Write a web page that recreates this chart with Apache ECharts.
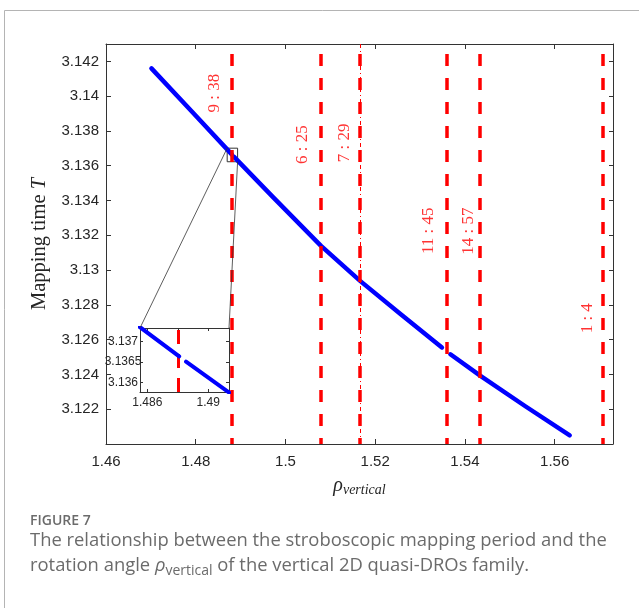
<!DOCTYPE html>
<html><head><meta charset="utf-8">
<script src="https://cdn.jsdelivr.net/npm/echarts@6/dist/echarts.min.js"></script>
<style>html,body{margin:0;padding:0;background:#fff;}#chart{width:639px;height:608px;}</style>
</head><body><div id="chart"></div>
<script>
// ---- data ----
const xTicks = [1.46, 1.48, 1.5, 1.52, 1.54, 1.56];
const xTickLabels = ['1.46', '1.48', '1.5', '1.52', '1.54', '1.56'];
const yTicks = [3.122, 3.124, 3.126, 3.128, 3.13, 3.132, 3.134, 3.136, 3.138, 3.14, 3.142];
const yTickLabels = ['3.122', '3.124', '3.126', '3.128', '3.13', '3.132', '3.134', '3.136', '3.138', '3.14', '3.142'];

// family curve (null = gap in the family)
const rhoValues  = [1.47013, 1.47913, 1.48809, null, 1.48854, 1.49728, 1.50792, 1.51663, 1.52556, 1.53487, null, 1.53676, 1.54346, 1.55346, 1.56335];
const timeValues = [3.14160, 3.13912, 3.13664, null, 3.13651, 3.13418, 3.13139, 3.12938, 3.12749, 3.12555, null, 3.12516, 3.12392, 3.12217, 3.12050];

// resonance lines
const resonanceNames = ['9 : 38', '6 : 25', '7 : 29', '11 : 45', '14 : 57', '1 : 4'];
const resonanceRho = [1.48806, 1.50796, 1.51661, 1.53589, 1.54324, 1.57080];

// inset (zoom) axes
const insetXTicks = [1.486, 1.488, 1.49];
const insetXTickLabels = ['1.486', '', '1.49'];
const insetYTicks = [3.136, 3.1365, 3.137];
const insetYTickLabels = ['3.136', '3.1365', '3.137'];
const insetRhoRange = [1.48552, 1.49136];
const insetTRange = [3.13577, 3.13733];
const zoomRectRho = [1.48701, 1.48933];
const zoomRectT = [3.13623, 3.13701];

// ---- layout constants (not data) ----
const labelAnchorRho = [1.48426, 1.50384, 1.51306, 1.53188, 1.54080, 1.56737];
const labelAnchorT   = [3.14017, 3.13722, 3.13732, 3.13226, 3.13224, 3.12723];

const AX = '#333333', TXT = '#262626', RED = '#ff0000', BLUE = '#0000ff';
const SANS = 'Liberation Sans, Arial, sans-serif';
const SERIF = 'Liberation Serif, Times New Roman, serif';
const CAP = '#6b6b6b';

function fmt(ticks, labels) {
  return function (v) {
    for (let i = 0; i < ticks.length; i++) if (Math.abs(v - ticks[i]) < 1e-9) return labels[i];
    return '';
  };
}
const pairs = rhoValues.map((r, i) => (r === null ? ['-', '-'] : [r, timeValues[i]]));

function axisBase(extra) {
  return Object.assign({
    type: 'value', splitLine: { show: false },
    axisLine: { show: true, onZero: false, lineStyle: { color: AX, width: 1 } }
  }, extra);
}

const chart = echarts.init(document.getElementById('chart'), null, { renderer: 'canvas' });
const option = {
  animation: false,
  backgroundColor: '#ffffff',
  grid: [
    { left: 106, top: 44, width: 507, height: 400, outerBoundsMode: 'none' },
    { left: 140, top: 328, width: 89, height: 64, show: true, backgroundColor: '#ffffff', borderWidth: 0, outerBoundsMode: 'none' }
  ],
  xAxis: [
    axisBase({ gridIndex: 0, position: 'bottom', min: 1.46, max: 1.573,
      axisTick: { show: true, inside: true, length: 5, lineStyle: { color: AX }, customValues: xTicks },
      axisLabel: { show: true, customValues: xTicks, formatter: fmt(xTicks, xTickLabels), margin: 10, color: TXT, fontFamily: SANS, fontSize: 15 },
      name: '{r|ρ}{s|vertical}', nameLocation: 'middle', nameGap: 31,
      nameTextStyle: { rich: {
        r: { fontFamily: SERIF, fontStyle: 'italic', fontSize: 20, color: TXT },
        s: { fontFamily: SERIF, fontStyle: 'italic', fontSize: 14, color: TXT, padding: [8, 0, 0, 0] } } } }),
    axisBase({ gridIndex: 0, position: 'top', min: 1.46, max: 1.573,
      axisTick: { show: true, inside: true, length: 5, lineStyle: { color: AX }, customValues: xTicks },
      axisLabel: { show: false } }),
    axisBase({ gridIndex: 1, position: 'bottom', min: insetRhoRange[0], max: insetRhoRange[1],
      axisTick: { show: true, inside: true, length: 3, lineStyle: { color: AX }, customValues: insetXTicks },
      axisLabel: { show: true, customValues: insetXTicks, formatter: fmt(insetXTicks, insetXTickLabels), margin: 5, color: TXT, fontFamily: SANS, fontSize: 12 } }),
    axisBase({ gridIndex: 1, position: 'top', min: insetRhoRange[0], max: insetRhoRange[1],
      axisTick: { show: true, inside: true, length: 3, lineStyle: { color: AX }, customValues: insetXTicks },
      axisLabel: { show: false } })
  ],
  yAxis: [
    axisBase({ gridIndex: 0, position: 'left', min: 3.12, max: 3.143,
      axisTick: { show: true, inside: true, length: 5, lineStyle: { color: AX }, customValues: yTicks },
      axisLabel: { show: true, customValues: yTicks, formatter: fmt(yTicks, yTickLabels), margin: 7, color: TXT, fontFamily: SANS, fontSize: 15 },
      name: '{n|Mapping time }{t|T}', nameLocation: 'middle', nameRotate: 90, nameGap: 55,
      nameTextStyle: { rich: {
        n: { fontFamily: SERIF, fontSize: 20.5, color: TXT },
        t: { fontFamily: SERIF, fontStyle: 'italic', fontSize: 20.5, color: TXT } } } }),
    axisBase({ gridIndex: 0, position: 'right', min: 3.12, max: 3.143,
      axisTick: { show: true, inside: true, length: 4, lineStyle: { color: AX }, customValues: yTicks },
      axisLabel: { show: false } }),
    axisBase({ gridIndex: 1, position: 'left', min: insetTRange[0], max: insetTRange[1],
      axisTick: { show: true, inside: true, length: 3, lineStyle: { color: AX }, customValues: insetYTicks },
      axisLabel: { show: true, customValues: insetYTicks, formatter: fmt(insetYTicks, insetYTickLabels), margin: 17, align: 'center', color: TXT, fontFamily: SANS, fontSize: 12 } }),
    axisBase({ gridIndex: 1, position: 'right', min: insetTRange[0], max: insetTRange[1],
      axisTick: { show: true, inside: true, length: 3, lineStyle: { color: AX }, customValues: insetYTicks },
      axisLabel: { show: false } })
  ],
  series: [
    { name: 'family', type: 'line', xAxisIndex: 0, yAxisIndex: 0, data: pairs, symbol: 'none', showSymbol: false,
      connectNulls: false, silent: true, z: 2,
      lineStyle: { color: BLUE, width: 4.5, cap: 'round', join: 'round' } },
    { name: 'resonances', type: 'line', xAxisIndex: 0, yAxisIndex: 0, data: [], z: 3, silent: true,
      markLine: { silent: true, animation: false, precision: 6, symbol: ['none', 'none'], label: { show: false },
        lineStyle: { color: RED, width: 3.5, type: [12, 12], dashOffset: 6 },
        data: resonanceRho.map(v => ({ xAxis: v })) } },
    { name: 'resonance 7:29 thin', type: 'line', xAxisIndex: 0, yAxisIndex: 0, data: [], z: 3, silent: true,
      markLine: { silent: true, animation: false, precision: 6, symbol: ['none', 'none'], label: { show: false },
        lineStyle: { color: RED, width: 1, type: [4, 3, 1, 3] },
        data: [{ xAxis: resonanceRho[2] }] } },
    { name: 'labels', type: 'scatter', xAxisIndex: 0, yAxisIndex: 0, z: 4, silent: true, symbolSize: 1,
      itemStyle: { color: 'rgba(0,0,0,0)' },
      data: resonanceNames.map((n, i) => ({ name: n, value: [labelAnchorRho[i], labelAnchorT[i]] })),
      label: { show: true, position: 'inside', rotate: 90, formatter: p => p.name, color: RED, fontFamily: SERIF, fontSize: 17 } },
    { name: 'zoomRect', type: 'line', xAxisIndex: 0, yAxisIndex: 0, data: [], z: 4, silent: true,
      markArea: { silent: true, animation: false, precision: 6, itemStyle: { color: 'rgba(0,0,0,0)', borderColor: AX, borderWidth: 1 },
        data: [[{ coord: [zoomRectRho[0], zoomRectT[1]] }, { coord: [zoomRectRho[1], zoomRectT[0]] }]] } },
    { name: 'inset family', type: 'line', xAxisIndex: 2, yAxisIndex: 2, data: pairs, symbol: 'none', showSymbol: false,
      connectNulls: false, clip: true, silent: true, z: 5,
      lineStyle: { color: BLUE, width: 4, cap: 'round', join: 'round' } },
    { name: 'inset resonance', type: 'line', xAxisIndex: 2, yAxisIndex: 2, data: [], z: 6, silent: true,
      markLine: { silent: true, animation: false, precision: 6, symbol: ['none', 'none'], label: { show: false },
        lineStyle: { color: RED, width: 3, type: [14, 10] },
        data: [{ xAxis: resonanceRho[0] }] } }
  ],
  graphic: [
    { id: 'card', type: 'rect', z: -10, silent: true,
      shape: { x: 4.5, y: 10.5, width: 700, height: 700 },
      style: { fill: 'none', stroke: '#b4b4b4', lineWidth: 1 } },
    { id: 'figno', type: 'text', x: 30, y: 521, silent: true,
      style: { text: 'FIGURE 7', fill: CAP, font: '600 14px "Open Sans", sans-serif', verticalAlign: 'middle' } },
    { id: 'cap1', type: 'text', x: 30, y: 541, silent: true,
      style: { text: 'The relationship between the stroboscopic mapping period and the', fill: CAP,
        font: '18.4px "Open Sans", sans-serif', verticalAlign: 'middle' } },
    { id: 'cap2', type: 'text', x: 30, y: 566, silent: true,
      style: { text: 'rotation angle {r|ρ}{s|vertical} of the vertical 2D quasi-DROs family.', fill: CAP,
        font: '18.4px "Open Sans", sans-serif', verticalAlign: 'middle',
        rich: { r: { fontStyle: 'italic', fontSize: 18.4, fontFamily: '"Open Sans", sans-serif', fill: CAP },
                s: { fontSize: 14, fontFamily: '"Open Sans", sans-serif', fill: CAP, padding: [10, 0, 0, 0] } } } }
  ]
};
chart.setOption(option);

// connector lines from the zoom rectangle to the inset, positioned by the library's own scales
const pTL = chart.convertToPixel({ xAxisIndex: 0, yAxisIndex: 0 }, [zoomRectRho[0], zoomRectT[1]]);
const pBR = chart.convertToPixel({ xAxisIndex: 0, yAxisIndex: 0 }, [zoomRectRho[1], zoomRectT[0]]);
const iTL = chart.convertToPixel({ xAxisIndex: 2, yAxisIndex: 2 }, [insetRhoRange[0], insetTRange[1]]);
const iTR = chart.convertToPixel({ xAxisIndex: 2, yAxisIndex: 2 }, [insetRhoRange[1], insetTRange[1]]);
chart.setOption({ graphic: [
  { id: 'conn1', type: 'line', silent: true, z: 10, shape: { x1: pTL[0], y1: pTL[1], x2: iTL[0], y2: iTL[1] }, style: { stroke: AX, lineWidth: 0.8 } },
  { id: 'conn2', type: 'line', silent: true, z: 10, shape: { x1: pBR[0], y1: pBR[1], x2: iTR[0], y2: iTR[1] }, style: { stroke: AX, lineWidth: 0.8 } }
] });
</script></body></html>
